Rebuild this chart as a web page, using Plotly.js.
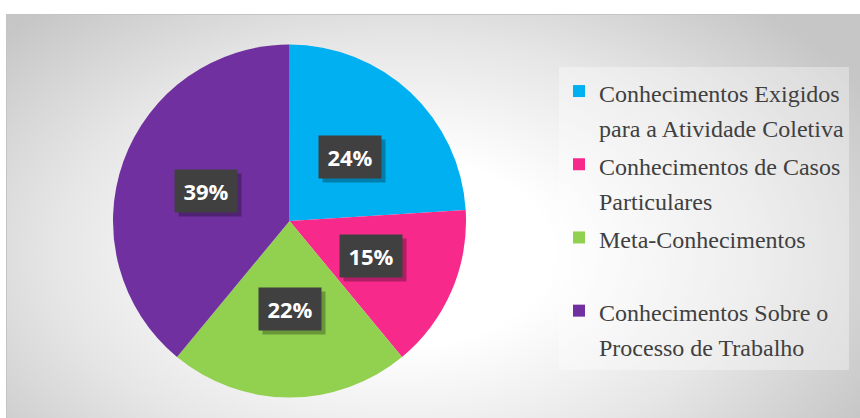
<!DOCTYPE html>
<html>
<head>
<meta charset="utf-8">
<script src="https://cdn.plot.ly/plotly-3.0.1.min.js"></script>
<style>
  html, body { margin: 0; padding: 0; background: #ffffff; }
  #wrap { position: relative; width: 860px; height: 418px; overflow: hidden; }
  #bg { position: absolute; left: 6px; top: 14px; width: 860px; height: 410px;
        border-top: 1px solid #c4c4c4; border-left: 1px solid #c4c4c4;
        background: radial-gradient(ellipse 62% 80% at 46% 58%, #ffffff 0%, #ffffff 28%, #e6e6e6 65%, #c6c6c6 100%); }
  #chart { position: absolute; left: 0; top: 0; width: 860px; height: 418px; }
</style>
</head>
<body>
<div id="wrap">
  <div id="bg"></div>
  <div id="chart"></div>
</div>
<script>
const categories = [
  ["Conhecimentos Exigidos", "para a Atividade Coletiva"],
  ["Conhecimentos de Casos", "Particulares"],
  ["Meta-Conhecimentos", "\u00a0"],
  ["Conhecimentos Sobre o", "Processo de Trabalho"]
];
const values = [24, 15, 22, 39];
const colors = ["#00B0F0", "#F72A8C", "#92D050", "#7030A0"];

const W = 860, H = 418;
const domX = [0.1314, 0.5419];
const domY = [0.0478, 0.8947];

const legendLabels = categories.map(lines =>
  lines.map(l => '<span style="font-size:24px">' + l + '</span>').join("<br>"));

const trace = {
  type: "pie",
  labels: legendLabels,
  values: values,
  sort: false,
  direction: "clockwise",
  rotation: 0,
  marker: { colors: colors, line: { width: 0 } },
  textinfo: "none",
  hoverinfo: "percent",
  domain: { x: domX, y: domY },
  showlegend: true
};

// label boxes placed at slice mid-angles, computed from the data
const total = values.reduce((a, b) => a + b, 0);
const cxPx = (domX[0] + domX[1]) / 2 * W;
const cyPx = (1 - (domY[0] + domY[1]) / 2) * H;
const rPx = Math.min((domX[1] - domX[0]) * W, (domY[1] - domY[0]) * H) / 2;
const annotations = [];
let cum = 0;
values.forEach((v) => {
  const mid = (cum + v / 2) / total * 2 * Math.PI;
  cum += v;
  const px = cxPx + 0.5 * rPx * Math.sin(mid);
  const py = cyPx - 0.5 * rPx * Math.cos(mid);
  const txt = Math.round(v / total * 100) + "%";
  const base = {
    xref: "paper", yref: "paper", x: px / W, y: 1 - py / H,
    showarrow: false, width: 50, height: 30, borderpad: 6,
    xanchor: "center", yanchor: "middle"
  };
  annotations.push(Object.assign({}, base, {
    text: "\u00a0", xshift: 4, yshift: -4, bgcolor: "rgba(0,0,0,0.28)",
    font: { family: "Open Sans", size: 22, color: "rgba(0,0,0,0)" }
  }));
  annotations.push(Object.assign({}, base, {
    text: txt, bgcolor: "#404040",
    font: { family: "Open Sans", size: 22, color: "#ffffff", weight: "bold" }
  }));
});

const layout = {
  width: W, height: H,
  margin: { l: 0, r: 0, t: 0, b: 0 },
  paper_bgcolor: "rgba(0,0,0,0)",
  plot_bgcolor: "rgba(0,0,0,0)",
  showlegend: true,
  legend: {
    x: 559 / W, y: 1 - 67 / H, xanchor: "left", yanchor: "top",
    bgcolor: "rgba(255,255,255,0.35)",
    font: { family: "Liberation Serif", size: 27, color: "#404040" },
    valign: "top",
    traceorder: "normal"
  },
  annotations: annotations
};

Plotly.newPlot("chart", [trace], layout, { displayModeBar: false, staticPlot: true });
</script>
</body>
</html>
